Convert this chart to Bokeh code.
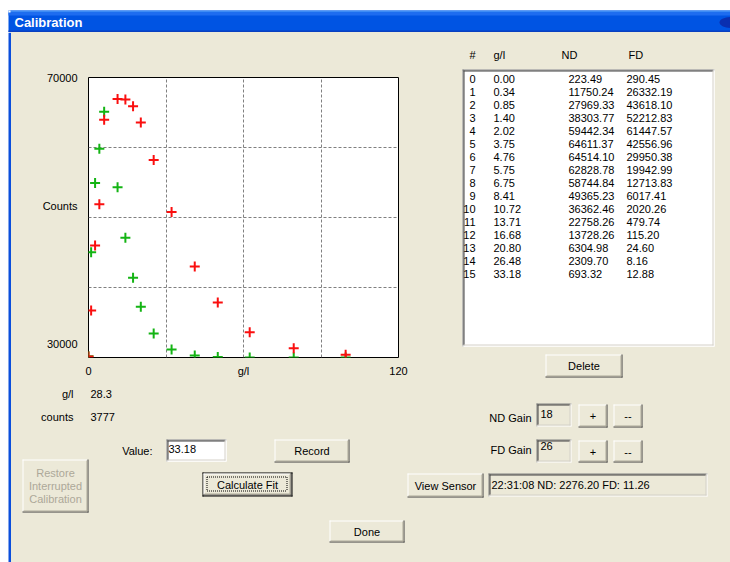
from bokeh.plotting import figure
from bokeh.layouts import row, column
from bokeh.models import Range1d, FixedTicker
from bokeh.core.properties import value
from bokeh.embed import file_html
from bokeh.resources import INLINE

# ---------------- data ----------------
point_no = list(range(16))
conc_gl = [0.00, 0.34, 0.85, 1.40, 2.02, 3.75, 4.76, 5.75, 6.75, 8.41,
           10.72, 13.71, 16.68, 20.80, 26.48, 33.18]
nd_counts = [223.49, 11750.24, 27969.33, 38303.77, 59442.34, 64611.37,
             64514.10, 62828.78, 58744.84, 49365.23, 36362.46, 22758.26,
             13728.26, 6304.98, 2309.70, 693.32]
fd_counts = [290.45, 26332.19, 43618.10, 52212.83, 61447.57, 42556.96,
             29950.38, 19942.99, 12713.83, 6017.41, 2020.26, 479.74,
             115.20, 24.60, 8.16, 12.88]
plot_units_per_gl = 3          # the chart's x axis runs 0..120 for 0..40 g/l
x_ticks = [0, 60, 120]
x_tick_labels = {0: "0", 60: "g/l", 120: "120"}
# the dialog prints its y texts at these heights of the 0..70000 axis
y_ticks = [3500, 37800, 70000]
y_tick_labels = {3500: "30000", 37800: "Counts", 70000: "70000"}
x_grid = [30, 60, 90]
y_grid = [17500, 35000, 52500]
headers = ["#", "g/l", "ND", "FD"]
cur_gl, cur_counts = "28.3", "3777"
entry_value = "33.18"
nd_gain, fd_gain = "18", "26"
sensor_text = "22:31:08  ND: 2276.20  FD: 11.26"

# ---------------- style ----------------
BG = "#ECE9D8"
BLUE = "#0054E3"
RED = "#FA0F0F"
GREEN = "#14B414"
FONT = "Liberation Sans"
FS = "11px"
DIS = "#ACA899"


def chrome(w, h, bg=BG):
    f = figure(width=w, height=h, x_range=Range1d(0, w), y_range=Range1d(h, 0),
               output_backend="svg", toolbar_location=None,
               x_axis_location=None, y_axis_location=None, min_border=0,
               styles={"background-color": bg})
    f.frame_align = False
    f.grid.visible = False
    f.outline_line_color = None
    f.background_fill_color = bg
    f.border_fill_color = bg
    return f


def txt(f, xs, ys, texts, align="left", color="black", size=FS, bold=False):
    f.text(x=xs, y=ys, text=texts, text_font=value(FONT), text_font_size=size,
           text_align=align, text_baseline="middle", text_color=color,
           text_font_style="bold" if bold else "normal")


def seg(f, pts, color, dash="solid"):
    f.segment(x0=[p[0] for p in pts], y0=[p[1] for p in pts],
              x1=[p[2] for p in pts], y1=[p[3] for p in pts],
              line_color=color, line_width=1, line_dash=dash)


def button(f, x0, y0, x1, y1, label, default=False, disabled=False):
    f.quad(left=x0, right=x1, top=y0, bottom=y1, fill_color=BG, line_color=None)
    if default:
        seg(f, [(x0, y0 + .5, x1, y0 + .5), (x0 + .5, y0, x0 + .5, y1),
                (x0, y1 - .5, x1, y1 - .5), (x1 - .5, y0, x1 - .5, y1)], "#000000")
        x0, y0, x1, y1 = x0 + 1, y0 + 1, x1 - 1, y1 - 1
    seg(f, [(x0, y0 + .5, x1 - 1, y0 + .5), (x0 + .5, y0, x0 + .5, y1 - 1)], "#FFFFFF")
    seg(f, [(x0, y1 - .5, x1, y1 - .5), (x1 - .5, y0, x1 - .5, y1)], "#404040")
    seg(f, [(x0 + 1, y1 - 1.5, x1 - 1, y1 - 1.5), (x1 - 1.5, y0 + 1, x1 - 1.5, y1 - 1)], "#ACA899")
    if default:
        a, b, c, d = x0 + 3.5, y0 + 3.5, x1 - 4.5, y1 - 4.5
        seg(f, [(a, b, c, b), (a, d, c, d), (a, b, a, d), (c, b, c, d)], "#000000", "1 1")
    cx, cy = (x0 + x1) / 2, (y0 + y1) / 2
    if isinstance(label, list):
        n = len(label)
        ys = [cy + (i - (n - 1) / 2) * 12.8 for i in range(n)]
        txt(f, [cx] * n, ys, label, align="center", color=DIS if disabled else "black")
    else:
        txt(f, [cx], [cy], [label], align="center", color=DIS if disabled else "black")


def sunken(f, x0, y0, x1, y1, fill):
    f.quad(left=x0, right=x1, top=y0, bottom=y1, fill_color=fill, line_color=None)
    seg(f, [(x0, y0 + .5, x1, y0 + .5), (x0 + .5, y0, x0 + .5, y1)], "#808080")
    seg(f, [(x0 + 1, y0 + 1.5, x1 - 1, y0 + 1.5), (x0 + 1.5, y0 + 1, x0 + 1.5, y1 - 1)], "#404040")
    seg(f, [(x0, y1 - .5, x1, y1 - .5), (x1 - .5, y0, x1 - .5, y1)], "#FFFFFF")
    seg(f, [(x0 + 1, y1 - 1.5, x1 - 1, y1 - 1.5), (x1 - 1.5, y0 + 1, x1 - 1.5, y1 - 1)], "#D4D0C8")


# ---------------- title bar ----------------
title = chrome(730, 32, bg="white")
title.quad(left=8, right=730, top=10, bottom=32, fill_color=BLUE, line_color=None)
title.quad(left=8, right=730, top=10, bottom=12, fill_color="#3D8BF5", line_color=None)
title.quad(left=8, right=730, top=12, bottom=15, fill_color="#1E6CF0", line_color=None)
title.quad(left=8, right=730, top=30, bottom=32, fill_color="#0A3FC0", line_color=None)
title.quad(left=8, right=10, top=10, bottom=12, fill_color="white", line_color=None)
title.ellipse(x=[731], y=[22], width=24, height=11, fill_color="#0A2FB0", line_color=None)
txt(title, [14], [22], ["Calibration"], color="white", size="13px", bold=True)

# ---------------- left window border ----------------
strip = chrome(11, 530, bg="white")
strip.quad(left=8, right=11, top=0, bottom=530, fill_color="#0B4FDC", line_color=None)

# ---------------- chart ----------------
chart = figure(width=441, height=348, x_range=Range1d(0, 120), y_range=Range1d(0, 70000),
               output_backend="svg", toolbar_location=None,
               min_border_left=77, min_border_right=54, min_border_top=45, min_border_bottom=23,
               styles={"background-color": BG})
chart.frame_align = False
chart.background_fill_color = "white"
chart.border_fill_color = BG
chart.outline_line_color = "#000000"
chart.outline_line_width = 1
chart.outline_line_alpha = 1

for ax in (chart.xaxis[0], chart.yaxis[0]):
    ax.axis_line_color = None
    ax.major_tick_line_color = None
    ax.minor_tick_line_color = None
    ax.major_tick_out = 0
    ax.major_tick_in = 0
    ax.minor_tick_out = 0
    ax.minor_tick_in = 0
    ax.major_label_text_font = FONT
    ax.major_label_text_font_size = FS
    ax.major_label_text_color = "black"
chart.xaxis[0].ticker = FixedTicker(ticks=x_ticks)
chart.xaxis[0].major_label_overrides = x_tick_labels
chart.xaxis[0].major_label_standoff = 7
chart.yaxis[0].ticker = FixedTicker(ticks=y_ticks)
chart.yaxis[0].major_label_overrides = y_tick_labels
chart.yaxis[0].major_label_standoff = 11

chart.xgrid[0].ticker = FixedTicker(ticks=x_grid)
chart.ygrid[0].ticker = FixedTicker(ticks=y_grid)
for g in (chart.xgrid[0], chart.ygrid[0]):
    g.grid_line_color = "#808080"
    g.grid_line_dash = "3 2"
    g.grid_line_width = 1

px = [g * plot_units_per_gl for g in conc_gl]
chart.scatter(x=px, y=fd_counts, marker="cross", size=10, line_color=GREEN, line_width=2)
chart.scatter(x=px, y=nd_counts, marker="cross", size=10, line_color=RED, line_width=2)

# ---------------- table panel ----------------
table = chrome(278, 348)
txt(table, [20], [22], [headers[0]], align="center")
txt(table, [41, 109, 176], [22, 22, 22], headers[1:])
sunken(table, 10, 37, 262, 314, "white")
row_y = [46.3 + 13 * i for i in point_no]
txt(table, [23] * 16, row_y, [str(n) for n in point_no], align="right")
txt(table, [41] * 16, row_y, ["%.2f" % v for v in conc_gl])
txt(table, [116] * 16, row_y, ["%.2f" % v for v in nd_counts])
txt(table, [174] * 16, row_y, ["%.2f" % v for v in fd_counts])
button(table, 93, 322, 170, 345, "Delete")

# ---------------- controls panel ----------------
ctl = chrome(719, 182)
txt(ctl, [62, 62], [13, 36], ["g/l", "counts"], align="right")
txt(ctl, [79, 79], [13, 36], [cur_gl, cur_counts])
txt(ctl, [141], [70], ["Value:"], align="right")
sunken(ctl, 155, 59, 215, 81, "white")
txt(ctl, [157], [68], [entry_value])
button(ctl, 263, 59, 338, 82, "Record")
button(ctl, 11, 79, 77, 132, ["Restore", "Interrupted", "Calibration"], disabled=True)
button(ctl, 191, 92, 281, 116, "Calculate Fit", default=True)
button(ctl, 396, 93, 472, 117, "View Sensor")
sunken(ctl, 477, 93, 696, 116, BG)
txt(ctl, [480], [104], [sensor_text])
txt(ctl, [520, 520], [37, 69], ["ND Gain", "FD Gain"], align="right")
sunken(ctl, 525, 23, 560, 46, BG)
sunken(ctl, 525, 59, 560, 82, BG)
txt(ctl, [529, 529], [33, 65], [nd_gain, fd_gain])
button(ctl, 567, 24, 596, 47, "+")
button(ctl, 602, 24, 631, 47, "--")
button(ctl, 567, 60, 596, 82, "+")
button(ctl, 602, 60, 631, 82, "--")
button(ctl, 318, 140, 393, 162, "Done")

inner = column(row(chart, table, styles={"background-color": BG}), ctl,
               styles={"background-color": BG})
layout = column(title, row(strip, inner))

open("out.html", "w").write(file_html(layout, INLINE))
